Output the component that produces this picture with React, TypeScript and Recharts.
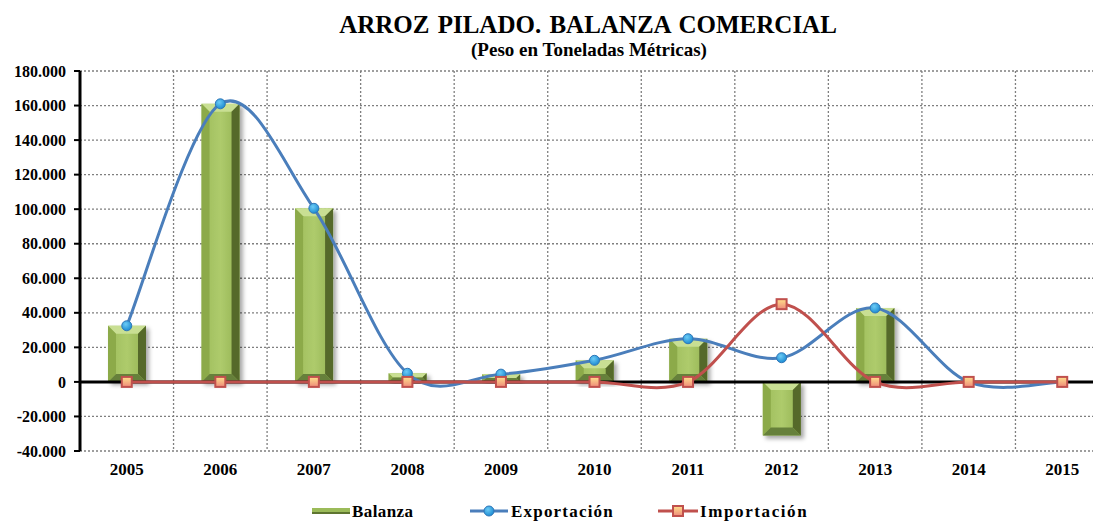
import React from "react";
import { ComposedChart, Bar, Line, XAxis, YAxis, CartesianGrid, ReferenceLine } from "recharts";

// valores (toneladas métricas)
const years = ["2005", "2006", "2007", "2008", "2009", "2010", "2011", "2012", "2013", "2014", "2015"];
const balanza = [32500, 161000, 100500, 5000, 4500, 12500, 25000, -31000, 42800, 0, 0];
const exportacion = [32500, 161000, 100500, 5000, 4500, 12500, 25000, 14000, 42800, 0, 0];
const importacion = [0, 0, 0, 0, 0, 0, 0, 45000, 0, 0, 0];
const yTicks = [-40000, -20000, 0, 20000, 40000, 60000, 80000, 100000, 120000, 140000, 160000, 180000];

const data = years.map((year, i) => ({
    year,
    balanza: balanza[i],
    exportacion: exportacion[i],
    importacion: importacion[i],
}));

const FONT = "'Liberation Serif', 'Times New Roman', serif";

const fmt = (v: number) => {
    const s = Math.abs(v).toString().replace(/\B(?=(\d{3})+(?!\d))/g, ".");
    return v < 0 ? "-" + s : s;
};

// suavizado tipo Excel (Catmull-Rom)
const smoothCurve = (context: any) => {
    let pts: number[][] = [];
    return {
        areaStart() {},
        areaEnd() {},
        lineStart() {
            pts = [];
        },
        point(x: number, y: number) {
            pts.push([+x, +y]);
        },
        lineEnd() {
            if (!pts.length) return;
            context.moveTo(pts[0][0], pts[0][1]);
            for (let i = 0; i < pts.length - 1; i++) {
                const p0 = pts[i - 1] || pts[i];
                const p1 = pts[i];
                const p2 = pts[i + 1];
                const p3 = pts[i + 2] || p2;
                context.bezierCurveTo(
                    p1[0] + (p2[0] - p0[0]) / 6,
                    p1[1] + (p2[1] - p0[1]) / 6,
                    p2[0] - (p3[0] - p1[0]) / 6,
                    p2[1] - (p3[1] - p1[1]) / 6,
                    p2[0],
                    p2[1]
                );
            }
        },
    };
};

const BevelBar = (props: any) => {
    const { x, y, width, height } = props;
    if (!height) return null;
    const top = Math.min(y, y + height);
    const h = Math.abs(height);
    const bot = top + h;
    const r = x + width;
    const b = Math.min(8, width / 4, h / 2);
    return (
        <g filter="url(#barShadow)">
            <rect x={x} y={top} width={width} height={h} fill="url(#barCenter)" />
            <polygon points={`${x},${top} ${r},${top} ${r - b},${top + b} ${x + b},${top + b}`} fill="#C9DF93" />
            <polygon points={`${x},${top} ${x + b},${top + b} ${x + b},${bot - b} ${x},${bot}`} fill="#8CAA4A" />
            <polygon points={`${r},${top} ${r},${bot} ${r - b},${bot - b} ${r - b},${top + b}`} fill="#55692B" />
            <polygon points={`${x},${bot} ${x + b},${bot - b} ${r - b},${bot - b} ${r},${bot}`} fill="#66803A" />
        </g>
    );
};

const BlueDot = (props: any) => {
    const { cx, cy } = props;
    if (cx == null || cy == null) return null;
    return <circle cx={cx} cy={cy} r={5} fill="url(#dotBlue)" stroke="#2F76B8" strokeWidth={1} />;
};

const RedSquare = (props: any) => {
    const { cx, cy } = props;
    if (cx == null || cy == null) return null;
    return <rect x={cx - 5} y={cy - 5} width={10} height={10} fill="url(#sqFill)" stroke="#C0504D" strokeWidth={2} />;
};

const tickStyle = { fontFamily: FONT, fontWeight: 700, fontSize: 16, fill: "#000" };

const App = () => {
    return (
        <div style={{ position: "absolute", left: 0, top: 0, width: 1093, height: 522, overflow: "hidden", background: "#fff" }}>
            <svg width="0" height="0" style={{ position: "absolute" }}>
                <defs>
                    <filter id="barShadow" x="-30%" y="-10%" width="160%" height="130%">
                        <feDropShadow dx="3" dy="3" stdDeviation="2" floodColor="#000" floodOpacity="0.35" />
                    </filter>
                    <linearGradient id="barCenter" x1="0" y1="0" x2="1" y2="0">
                        <stop offset="0%" stopColor="#9DBC5B" />
                        <stop offset="50%" stopColor="#AECB6C" />
                        <stop offset="100%" stopColor="#93B252" />
                    </linearGradient>
                    <radialGradient id="dotBlue" cx="40%" cy="35%" r="70%">
                        <stop offset="0%" stopColor="#6CCBF5" />
                        <stop offset="100%" stopColor="#1787D0" />
                    </radialGradient>
                    <linearGradient id="sqFill" x1="0" y1="0" x2="0" y2="1">
                        <stop offset="0%" stopColor="#FFE08A" />
                        <stop offset="100%" stopColor="#EE8A7A" />
                    </linearGradient>
                </defs>
            </svg>
            <ComposedChart
                width={1130}
                height={522}
                data={data}
                margin={{ top: 71, right: 21, left: 0, bottom: 41 }}
            >
                <CartesianGrid
                    stroke="#7F7F7F"
                    strokeDasharray="2 2"
                    strokeWidth={1.3}
                    verticalCoordinatesGenerator={({ offset }: any) =>
                        years.map((_, i) => offset.left + ((i + 1) * offset.width) / years.length)
                    }
                />
                <XAxis
                    dataKey="year"
                    interval={0}
                    axisLine={false}
                    tickLine={false}
                    tickSize={0}
                    tickMargin={12}
                    height={30}
                    tick={{ ...tickStyle, fontSize: 17 }}
                />
                <YAxis
                    domain={[-40000, 180000]}
                    ticks={yTicks}
                    width={80}
                    tickFormatter={fmt}
                    tick={tickStyle}
                    tickSize={6}
                    tickMargin={8}
                    tickLine={{ stroke: "#000", strokeWidth: 2 }}
                    axisLine={{ stroke: "#000", strokeWidth: 3 }}
                    allowDataOverflow
                />
                <ReferenceLine y={0} stroke="#000" strokeWidth={3} />
                <Bar dataKey="balanza" name="Balanza" fill="#9BBB59" barSize={38} shape={BevelBar} isAnimationActive={false} />
                <Line
                    dataKey="exportacion"
                    name="Exportación"
                    type={smoothCurve as any}
                    stroke="#4A7EBB"
                    strokeWidth={3}
                    dot={BlueDot}
                    activeDot={false}
                    isAnimationActive={false}
                />
                <Line
                    dataKey="importacion"
                    name="Importación"
                    type={smoothCurve as any}
                    stroke="#C0504D"
                    strokeWidth={3}
                    dot={RedSquare}
                    activeDot={false}
                    isAnimationActive={false}
                />
            </ComposedChart>
            <svg
                width={1093}
                height={522}
                style={{ position: "absolute", left: 0, top: 0, pointerEvents: "none" }}
                fontFamily={FONT}
                fontWeight={700}
            >
                <text x={588} y={33} textAnchor="middle" fontSize={25} wordSpacing={2}>
                    ARROZ PILADO. BALANZA COMERCIAL
                </text>
                <text x={589} y={56} textAnchor="middle" fontSize={19}>
                    (Peso en Toneladas Métricas)
                </text>
                <g fontSize={17}>
                    <rect x={312} y={508} width={38} height={6} fill="#9BBB59" />
                    <rect x={312} y={512} width={38} height={2} fill="#5E7530" />
                    <text x={352} y={517} letterSpacing={0.4}>Balanza</text>
                    <line x1={470} y1={511} x2={508} y2={511} stroke="#4A7EBB" strokeWidth={3} />
                    <circle cx={489} cy={511} r={5} fill="url(#dotBlue)" stroke="#2F76B8" strokeWidth={1} />
                    <text x={511} y={517} letterSpacing={1.2}>Exportación</text>
                    <line x1={658} y1={511} x2={698} y2={511} stroke="#C0504D" strokeWidth={3} />
                    <rect x={673} y={506} width={10} height={10} fill="url(#sqFill)" stroke="#C0504D" strokeWidth={2} />
                    <text x={700} y={517} letterSpacing={1.6}>Importación</text>
                </g>
            </svg>
        </div>
    );
};

export default App;
